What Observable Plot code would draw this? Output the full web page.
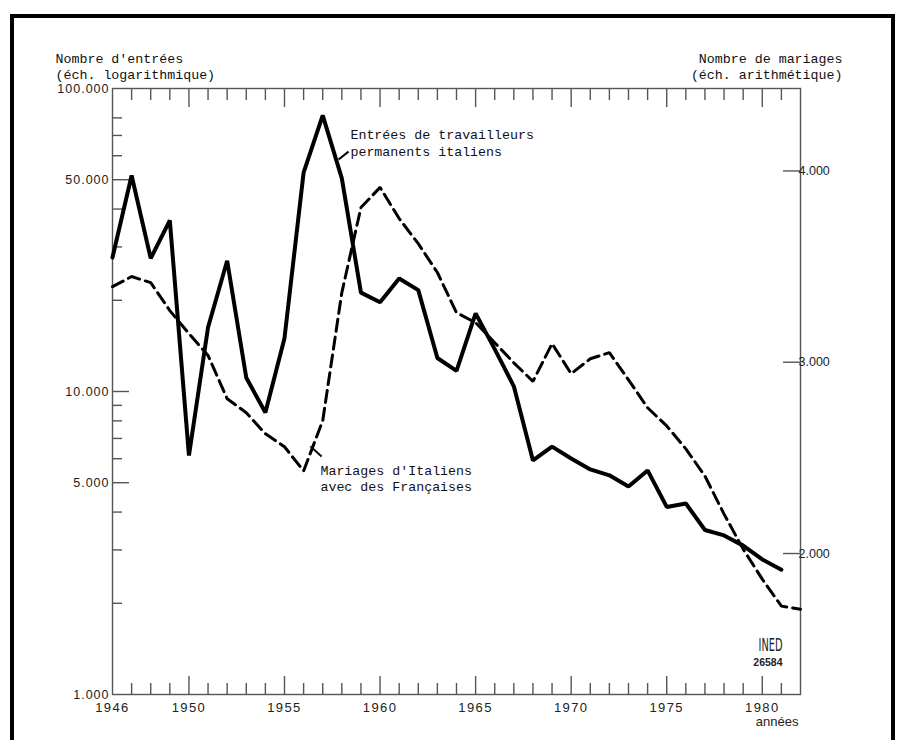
<!DOCTYPE html>
<html><head><meta charset="utf-8">
<script src="https://cdn.jsdelivr.net/npm/d3@7"></script>
<script src="https://cdn.jsdelivr.net/npm/@observablehq/plot@0.6"></script>
<style>
html,body{margin:0;padding:0;background:#fff;}
#wrap{position:relative;width:901px;height:740px;overflow:hidden;}
#border{position:absolute;left:10px;top:14px;width:885px;height:760px;border:4px solid #000;border-bottom:none;box-sizing:border-box;pointer-events:none;}
#chart{position:absolute;left:0;top:0;}
#chart g[aria-label="y-axis tick label"] text{letter-spacing:1px;}
#chart g[aria-label="x-axis tick label"] text{letter-spacing:1.4px;}
</style></head>
<body>
<div id="wrap"><div id="chart"></div><div id="border"></div></div>
<script>
// ---- data ----
const entryYears = d3.range(1946, 1982);
const entries = [27700, 51600, 27500, 36700, 6150, 16300, 27000, 11100, 8530, 15000,
  52800, 81500, 50500, 21200, 19700, 23600, 21600, 12900, 11700, 18100,
  13800, 10400, 5920, 6580, 6010, 5530, 5290, 4860, 5490, 4160,
  4270, 3490, 3350, 3100, 2790, 2580];
const marriageYears = d3.range(1946, 1983);
const marriages = [3395, 3448, 3416, 3270, 3150, 3035, 2809, 2736, 2626, 2558,
  2432, 2694, 3364, 3809, 3914, 3751, 3620, 3469, 3259, 3207,
  3102, 2997, 2900, 3097, 2940, 3018, 3050, 2908, 2762, 2667,
  2547, 2405, 2206, 2023, 1866, 1725, 1709];
const leftLabelTicks = [1000, 5000, 10000, 50000, 100000];
const leftMinorTicks = [2000, 3000, 4000, 6000, 7000, 8000, 9000, 20000, 30000, 40000, 60000, 70000, 80000];
const leftMajorTicks = [5000, 10000, 50000];
const rightTicks = [2000, 3000, 4000];
const rightDomain = [1263, 4431];
const yearLabels = [1946, 1950, 1955, 1960, 1965, 1970, 1975, 1980];
const yearMajor = [1950, 1955, 1960, 1965, 1970, 1975, 1980];
const yearMinor = d3.range(1947, 1982).filter(y => y % 5 !== 0);
const leftTitle = "Nombre d'entrées\n(éch. logarithmique)";
const rightTitle = "Nombre de mariages\n(éch. arithmétique)";
const notes = [
  {year: 1958.45, value: 66600, text: "Entrées de travailleurs\npermanents italiens"},
  {year: 1956.88, value: 5200, text: "Mariages d'Italiens\navec des Françaises"}
];
const leaders = [
  {x1: 1957.83, y1: 58300, x2: 1958.35, y2: 61900},
  {x1: 1956.36, y1: 6590, x2: 1956.94, y2: 6100}
];

// ---- layout ----
const W = 901, H = 740, ML = 112, MR = 101, MT = 88, MB = 46;
const PW = W - ML - MR, PH = H - MT - MB;
const toLog = d3.scaleLinear().domain(rightDomain).range([3, 5]);
const mapM = v => Math.pow(10, toLog(v));
const fmt = d3.formatLocale({decimal: ",", thousands: ".", grouping: [3]}).format(",d");
const mono = "Liberation Mono, DejaVu Sans Mono, monospace";
const sans = "Liberation Sans, Arial, sans-serif";
const axisCol = "#555";

const entryData = entryYears.map((y, i) => ({year: y, v: entries[i]}));
const marriageData = marriageYears.map((y, i) => ({year: y, v: mapM(marriages[i])}));

const chart = Plot.plot({
  width: W, height: H,
  marginLeft: ML, marginRight: MR, marginTop: MT, marginBottom: MB,
  x: {domain: [1946, 1982], axis: null},
  y: {type: "log", domain: [1000, 100000], axis: null},
  style: {background: "transparent", fontFamily: sans, color: "#222"},
  marks: [
    Plot.frame({stroke: axisCol, strokeWidth: 1.4}),
    // left axis ticks (inward)
    Plot.tickY(leftMinorTicks, {insetRight: PW - 10, stroke: axisCol, strokeWidth: 1.4}),
    Plot.tickY(leftMajorTicks, {insetRight: PW - 17, stroke: axisCol, strokeWidth: 1.4}),
    // right axis ticks (inward)
    Plot.tickY(rightTicks.map(mapM), {insetLeft: PW - 17, stroke: axisCol, strokeWidth: 1.4}),
    // bottom ticks
    Plot.tickX(yearMinor, {insetTop: PH - 11, stroke: axisCol, strokeWidth: 1.4}),
    Plot.tickX(yearMajor, {insetTop: PH - 18, stroke: axisCol, strokeWidth: 1.4}),
    // top ticks
    Plot.tickX(yearMinor, {insetBottom: PH - 12, stroke: axisCol, strokeWidth: 1.4}),
    Plot.tickX(yearMajor, {insetBottom: PH - 19, stroke: axisCol, strokeWidth: 1.4}),
    // axis labels
    Plot.axisY({ticks: leftLabelTicks, tickSize: 0, tickPadding: 3, tickFormat: fmt, fontSize: 12.5, label: null}),
    Plot.text(rightTicks, {y: d => mapM(d), text: d => fmt(d), frameAnchor: "right", dx: -2, textAnchor: "start",
      fontSize: 12.5, fontFamily: sans, fill: "#222", style: "letter-spacing:1px"}),
    Plot.axisX({ticks: yearLabels, tickSize: 0, tickPadding: 8, tickFormat: d => String(d), fontSize: 13, label: null}),
    // titles
    Plot.text([leftTitle], {frameAnchor: "top-left", dx: -57, dy: -23, textAnchor: "start", lineAnchor: "middle",
      lineHeight: 1.25, fontFamily: mono, fontSize: 13.3, fill: "#111"}),
    Plot.text([rightTitle], {frameAnchor: "top-right", dx: 42, dy: -23, textAnchor: "end", lineAnchor: "middle",
      lineHeight: 1.25, fontFamily: mono, fontSize: 13.3, fill: "#111"}),
    Plot.text(["années"], {frameAnchor: "bottom-right", dx: -2, dy: 31, textAnchor: "end", fontSize: 13,
      fontFamily: sans, fill: "#222"}),
    // INED logo
    Plot.text(["INED"], {frameAnchor: "bottom-right", dx: -18, dy: -44, fontSize: 17, fontFamily: "DejaVu Sans",
      fill: "#222", fontWeight: "normal"}),
    Plot.text(["26584"], {frameAnchor: "bottom-right", dx: -18, dy: -29, fontSize: 10.5, fontFamily: sans,
      fontWeight: "bold", fill: "#222"}),
    // data lines
    Plot.line(marriageData, {x: "year", y: "v", stroke: "#000", strokeWidth: 3, strokeDasharray: "12,6", strokeLinejoin: "miter"}),
    Plot.line(entryData, {x: "year", y: "v", stroke: "#000", strokeWidth: 4, strokeLinejoin: "miter"}),
    // annotations
    Plot.link(leaders, {x1: "x1", y1: "y1", x2: "x2", y2: "y2", stroke: "#000", strokeWidth: 2}),
    Plot.text(notes, {x: "year", y: "value", text: "text", textAnchor: "start", lineAnchor: "middle",
      lineHeight: 1.25, fontFamily: mono, fontSize: 13.3, fill: "#111"})
  ]
});
document.getElementById("chart").appendChild(chart);
// condensed logo lettering
d3.select(chart).selectAll("text").filter(function() { return this.textContent === "INED"; })
  .attr("textLength", 24).attr("lengthAdjust", "spacingAndGlyphs");
</script>
</body></html>
